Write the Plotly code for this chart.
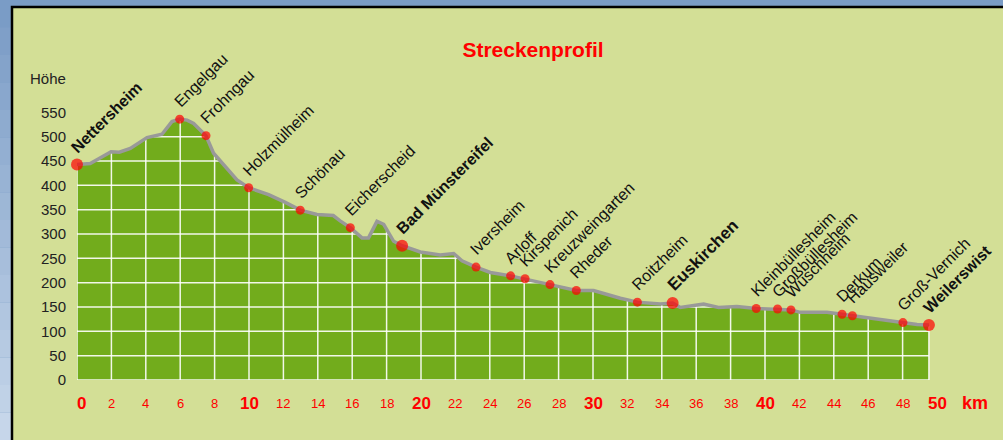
import numpy as np
import plotly.graph_objects as go

# ---------------- data ----------------
profile_km = [0, 0.77, 1.98, 2.46, 3.1, 4.07, 4.94, 5.52, 5.97, 6.4, 6.78, 7.5, 7.94, 9.3, 9.98,
              11.14, 12.11, 12.98, 13.95, 14.9, 15.3, 15.89, 16.57, 16.95, 17.44, 17.83, 18.41,
              18.9, 19.96, 21.12, 21.9, 22.38, 23.2, 24.03, 25.21, 26.05, 27.5, 29.03, 30.03,
              31.59, 32.58, 33.91, 34.63, 35.08, 36.43, 37.3, 38.37, 39.49, 40.73, 41.51, 42.05,
              43.6, 44.48, 45.08, 45.93, 48.02, 48.84, 49.53]
profile_elev = [443, 445, 469, 468, 476, 498, 505, 531, 536, 534, 527, 502, 466, 411, 395,
                381, 365, 349, 340, 338, 327, 313, 292, 292, 326, 320, 285,
                276, 263, 257, 260, 245, 232, 221, 214, 208, 196, 184, 184,
                168, 160, 156, 158, 149, 156, 149, 151, 147, 146, 144, 139,
                139, 135, 132, 128, 118, 114, 113]

places = ["Nettersheim", "Engelgau", "Frohngau", "Holzmülheim", "Schönau", "Eicherscheid",
          "Bad Münstereifel", "Iversheim", "Arloff", "Kirspenich", "Kreuzweingarten", "Rheder",
          "Roitzheim", "Euskirchen", "Kleinbüllesheim", "Großbüllesheim", "Wüschheim",
          "Derkum", "Hausweiler", "Groß-Vernich", "Weilerswist"]
place_km = [0, 5.97, 7.5, 9.98, 12.98, 15.89, 18.9, 23.2, 25.21, 26.05, 27.5, 29.03,
            32.58, 34.63, 39.49, 40.73, 41.51, 44.48, 45.08, 48.02, 49.53]
place_elev = [443, 536, 502, 395, 349, 313, 276, 232, 214, 208, 196, 184,
              160, 158, 147, 146, 144, 135, 132, 118, 113]
main_towns = ["Nettersheim", "Bad Münstereifel", "Euskirchen", "Weilerswist"]

y_ticks = list(range(0, 551, 50))
x_ticks = list(range(0, 51, 2))

# ---------------- style ----------------
PANEL = "#D3DF96"
GREEN = "#72AC1C"
BLUE = "#7A9CC6"
FONT = "Arial, Liberation Sans, sans-serif"

# layout geometry (pixels)
W, H = 1003, 440
ML, MR, MT, MB = 77, 66, 88, 60
PW, PH = W - ML - MR, H - MT - MB

def px2paper_x(px):
    return (px - ML) / PW

def py2paper_y(py):
    return (H - MB - py) / PH

fig = go.Figure()

# green area
fig.add_trace(go.Scatter(x=profile_km, y=profile_elev, mode="none", fill="tozeroy",
                         fillcolor=GREEN, hoverinfo="skip", showlegend=False))

# grid clipped to the area under the profile
km_end = profile_km[-1]
xs = np.linspace(0, km_end, 6000)
ys = np.interp(xs, profile_km, profile_elev)
gx, gy = [], []
for lvl in range(0, 501, 50):
    mask = ys > lvl + 1
    if not mask.any():
        continue
    idx = np.flatnonzero(mask)
    breaks = np.flatnonzero(np.diff(idx) > 1)
    starts = np.r_[idx[0], idx[breaks + 1]]
    ends = np.r_[idx[breaks], idx[-1]]
    for s, e in zip(starts, ends):
        gx += [xs[s], xs[e], None]
        gy += [lvl, lvl, None]
vlines = [v for v in x_ticks if v < km_end] + [km_end]
for v in vlines:
    top = float(np.interp(v, profile_km, profile_elev))
    gx += [v, v, None]
    gy += [0, top - 2, None]
fig.add_trace(go.Scatter(x=gx, y=gy, mode="lines", line=dict(color="rgba(255,255,255,0.9)", width=1.5),
                         hoverinfo="skip", showlegend=False))

# profile line
fig.add_trace(go.Scatter(x=profile_km, y=profile_elev, mode="lines", cliponaxis=False,
                         line=dict(color="#999999", width=3.5), hoverinfo="skip", showlegend=False))

# dots
sizes = [12 if p in main_towns else 9 for p in places]
fig.add_trace(go.Scatter(x=place_km, y=place_elev, mode="markers", cliponaxis=False,
                         marker=dict(color="#FF0000", size=sizes, line=dict(width=0)),
                         text=places, hoverinfo="text", showlegend=False))

annotations = []
# place labels
for name, k, e in zip(places, place_km, place_elev):
    main = name in main_towns
    txt = f"<b>{name}</b>" if main else name
    size = 17 if name == "Euskirchen" else 16
    annotations.append(dict(x=k, y=e, xref="x", yref="y", text=txt, showarrow=False,
                            textangle=-45, xanchor="left", yanchor="bottom",
                            xshift=-12, yshift=6,
                            font=dict(family=FONT, size=size, color="#111111")))
# x tick labels
y_lab = py2paper_y(403)
for t in x_ticks:
    big = t % 10 == 0
    annotations.append(dict(x=t, y=y_lab, xref="x", yref="paper",
                            text=f"<b>{t}</b>" if big else str(t), showarrow=False,
                            xanchor="center", yanchor="middle", xshift=4 if t == 0 else 0,
                            font=dict(family=FONT, size=17 if big else 13, color="#FF0000")))
annotations.append(dict(x=px2paper_x(975), y=y_lab, xref="paper", yref="paper", text="<b>km</b>",
                        showarrow=False, xanchor="center", yanchor="middle",
                        font=dict(family=FONT, size=18, color="#FF0000")))
# axis title
annotations.append(dict(x=px2paper_x(48), y=py2paper_y(78), xref="paper", yref="paper",
                        text="Höhe", showarrow=False, xanchor="center", yanchor="middle",
                        font=dict(family=FONT, size=15, color="#222222")))

# frame: blue background, light green panel with black border
shapes = []
nb = 16
top_c = np.array([0x7A, 0x9C, 0xC6])
bot_c = np.array([0xC6, 0xD6, 0xEA])
for i in range(nb):
    c = top_c + (bot_c - top_c) * (i / (nb - 1))
    y0p = H * i / nb
    y1p = H * (i + 1) / nb
    shapes.append(dict(type="rect", xref="paper", yref="paper", layer="below",
                       x0=px2paper_x(0), x1=px2paper_x(12),
                       y0=py2paper_y(y1p), y1=py2paper_y(y0p),
                       fillcolor="rgb(%d,%d,%d)" % tuple(c.astype(int)), line=dict(width=0)))
shapes.append(dict(type="rect", xref="paper", yref="paper", layer="below",
                   x0=px2paper_x(12), x1=px2paper_x(W + 20),
                   y0=py2paper_y(H + 20), y1=py2paper_y(7),
                   fillcolor=PANEL, line=dict(color="#000000", width=2.5)))

fig.update_layout(
    width=W, height=H,
    margin=dict(l=ML, r=MR, t=MT, b=MB, pad=0),
    paper_bgcolor=BLUE, plot_bgcolor=PANEL,
    title=dict(text="<b>Streckenprofil</b>", xref="container", yref="container",
               x=533 / W, y=1 - 50 / H, xanchor="center", yanchor="middle",
               font=dict(family=FONT, size=21, color="#FF0000")),
    xaxis=dict(range=[0, 50], showgrid=False, zeroline=False, showline=False,
               showticklabels=False, ticks=""),
    yaxis=dict(range=[0, 600], showgrid=False, zeroline=False, showline=False,
               tickmode="array", tickvals=y_ticks, ticktext=[str(v) for v in y_ticks],
               ticks="", ticklabelstandoff=10,
               tickfont=dict(family=FONT, size=15, color="#222222")),
    annotations=annotations, shapes=shapes,
    showlegend=False,
)

fig.write_html("out.html", config={"displayModeBar": False},
               post_script="document.body.style.margin='0px';document.body.style.overflow='hidden';")
